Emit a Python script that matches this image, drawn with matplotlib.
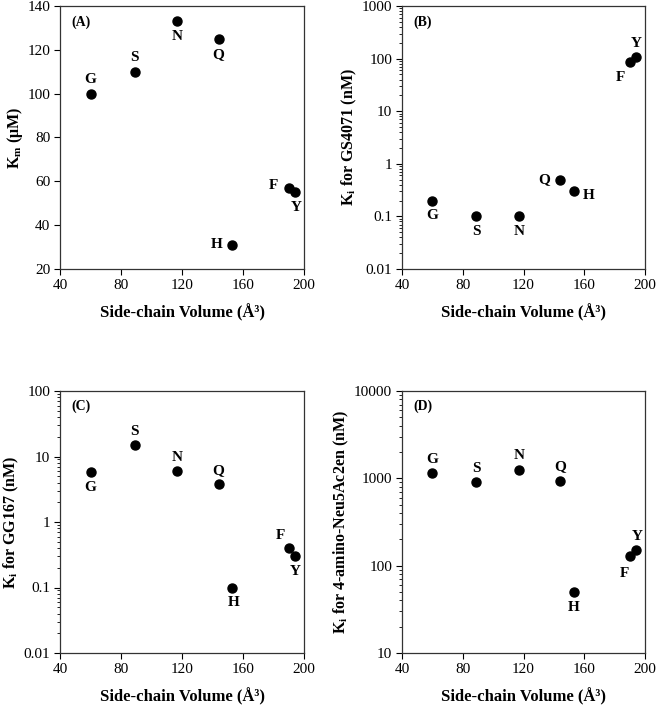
import matplotlib
matplotlib.use("Agg")
import matplotlib.pyplot as plt
from matplotlib.ticker import FuncFormatter, LogLocator, NullFormatter

plt.rcParams['font.family'] = ['Liberation Serif', 'DejaVu Serif']
plt.rcParams['mathtext.default'] = 'regular'

# --- data ---
residues = ["G", "S", "N", "Q", "H", "F", "Y"]
volume = [60, 89, 117, 144, 153, 190, 194]

km_uM = [100, 110, 133, 125, 31, 57, 55]
ki_gs4071 = [0.2, 0.1, 0.1, 0.5, 0.3, 85, 105]
ki_gg167 = [5.7, 15, 6, 3.8, 0.1, 0.4, 0.3]
ki_neu5ac2en = [1150, 900, 1250, 940, 50, 130, 150]

# label offsets (points) for each residue, per panel
off_a = [(0, 10), (0, 10), (0, -11), (0, -11), (-11, 0), (-11, 2), (1, -11)]
off_b = [(0, -11), (0, -11), (0, -11), (-11, 0), (11, -3), (-7, -11), (0, 10)]
off_c = [(0, -11), (0, 10), (0, 10), (0, 10), (1, -11), (-6, 9), (0, -11)]
off_d = [(0, 10), (0, 10), (0, 10), (0, 10), (0, -11), (-4, -13), (1, 10)]

panels = [
    ("(A)", km_uM, r"K$_{m}$ (μM)", False, (20, 140), off_a),
    ("(B)", ki_gs4071, r"K$_{i}$ for GS4071 (nM)", True, (0.01, 1000), off_b),
    ("(C)", ki_gg167, r"K$_{i}$ for GG167 (nM)", True, (0.01, 100), off_c),
    ("(D)", ki_neu5ac2en, r"K$_{i}$ for 4-amino-Neu5Ac2en (nM)", True, (10, 10000), off_d),
]

# axes rectangles in pixel units of a 656x710 figure
W, H = 656, 710
boxes = [(60, 6, 304, 269), (402, 6, 645, 269), (60, 391, 304, 653), (402, 391, 645, 653)]

fig = plt.figure(figsize=(6.56, 7.10), dpi=100)

for (tag, vals, ylab, logy, ylim, offs), (x0, y0, x1, y1) in zip(panels, boxes):
    ax = fig.add_axes([x0 / W, 1 - y1 / H, (x1 - x0) / W, (y1 - y0) / H])
    ax.plot(volume, vals, 'o', color='black', markersize=6.5, clip_on=False)
    for r, xv, yv, o in zip(residues, volume, vals, offs):
        ax.annotate(r, (xv, yv), xytext=o, textcoords='offset points',
                    ha='center', va='center', fontsize=11, fontweight='bold')
    ax.set_xlim(40, 200)
    ax.set_xticks([40, 80, 120, 160, 200])
    if logy:
        ax.set_yscale('log')
        ax.yaxis.set_major_formatter(FuncFormatter(lambda v, p: '%g' % v))
        ax.yaxis.set_minor_locator(LogLocator(base=10, subs=range(2, 10), numticks=20))
        ax.yaxis.set_minor_formatter(NullFormatter())
    else:
        ax.set_yticks(range(20, 141, 20))
    ax.set_ylim(*ylim)
    ax.tick_params(direction='out', length=4, width=0.8, labelsize=11, pad=3)
    ax.tick_params(which='minor', direction='out', length=2, width=0.6)
    for s in ax.spines.values():
        s.set_linewidth(0.9)
        s.set_color('#333333')
    ax.set_xlabel("Side-chain Volume (Å³)", fontsize=12, fontweight='bold', labelpad=9)
    ax.set_ylabel(ylab, fontsize=11.5, fontweight='bold', labelpad=2)
    ax.text(0.045, 0.94, tag, transform=ax.transAxes, fontsize=10,
            fontweight='bold', ha='left', va='center')

fig.savefig("out.png", dpi=100)
